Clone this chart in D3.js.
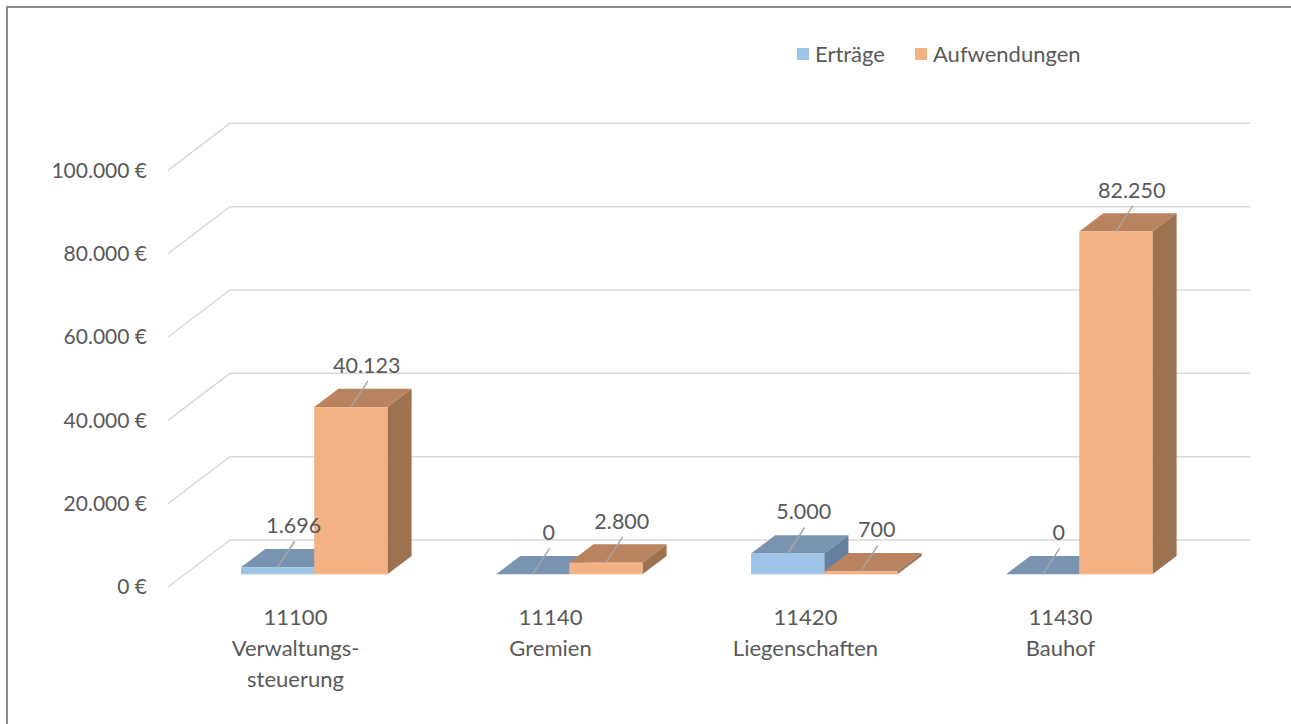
<!DOCTYPE html>
<html lang="de">
<head>
<meta charset="utf-8">
<title>Erträge und Aufwendungen</title>
<script src="https://cdn.jsdelivr.net/npm/d3@7"></script>
<style>
  body { margin: 0; background: #fff; }
  text { font-family: "Lato", "Open Sans", sans-serif; fill: #595959; }
</style>
</head>
<body>
<script>
// data
var categories = [["11100", "Verwaltungs-", "steuerung"], ["11140", "Gremien"], ["11420", "Liegenschaften"], ["11430", "Bauhof"]];
var seriesNames = ["Erträge", "Aufwendungen"];
var ertraege = [1696, 0, 5000, 0];
var aufwendungen = [40123, 2800, 700, 82250];
var yTicks = [0, 20000, 40000, 60000, 80000, 100000];

var W = 1291, H = 724;
var depthX = 62, depthY = -47;   // full depth of the floor
var z0 = 0.27, z1 = 0.66;        // bar front / back

var colors = [
  {front: "#9dc3e6", top: "#7894b1", side: "#64809e"},
  {front: "#f4b183", top: "#b98360", side: "#9c7251"}
];

var svg = d3.select("body").append("svg").attr("width", W).attr("height", H);

svg.append("rect").attr("x", 7).attr("y", 7).attr("width", W + 20).attr("height", H + 20)
  .attr("fill", "none").attr("stroke", "#8c8c8c").attr("stroke-width", 2);

var x = d3.scaleBand().domain(d3.range(categories.length)).range([170, 1190]);
var y = d3.scaleLinear().domain([0, 100000]).range([587, 170.3]);

function px(xx, z) { return xx + z * depthX; }
function py(yy, z) { return yy + z * depthY; }

var fmt = d3.formatLocale({decimal: ",", thousands: ".", grouping: [3], currency: ["", " €"]});
var num = fmt.format(",.0f");

// gridlines (left wall + back wall)
var grid = svg.append("g").attr("stroke", "#d9d9d9").attr("stroke-width", 1.5).attr("fill", "none");
yTicks.forEach(function(t) {
  grid.append("path").attr("d", d3.line()([
    [168, py(y(t), 0)], [168 + depthX, py(y(t), 1)], [1250, py(y(t), 1)]
  ]));
});

// y labels
svg.append("g").selectAll("text").data(yTicks).join("text")
  .attr("x", 147).attr("y", function(d) { return y(d); }).attr("dy", "0.35em")
  .attr("text-anchor", "end").attr("font-size", 21)
  .text(function(d) { return num(d) + " €"; });

// bars
var barW = x.bandwidth() * 0.287;
var bars = svg.append("g");
var labels = svg.append("g");
[ertraege, aufwendungen].forEach(function(values, s) {
  values.forEach(function(v, i) {
    var c = x(i) + x.bandwidth() / 2;
    var xl = s === 0 ? c - barW : c, xr = xl + barW;
    var yb = y(0), yt = y(v);
    var g = bars.append("g");
    // top
    g.append("path").attr("fill", colors[s].top).attr("d", d3.line()([
      [px(xl, z0), py(yt, z0)], [px(xr, z0), py(yt, z0)], [px(xr, z1), py(yt, z1)], [px(xl, z1), py(yt, z1)]
    ]) + "Z");
    // side
    g.append("path").attr("fill", colors[s].side).attr("d", d3.line()([
      [px(xr, z0), py(yt, z0)], [px(xr, z1), py(yt, z1)], [px(xr, z1), py(yb, z1)], [px(xr, z0), py(yb, z0)]
    ]) + "Z");
    // front
    if (v > 0) {
      g.append("rect").attr("fill", colors[s].front)
        .attr("x", px(xl, z0)).attr("y", py(yt, z0))
        .attr("width", barW).attr("height", yb - yt);
    }
    // data label with leader line
    var cx = px(xl + barW / 2, z0), cy = py(yt, z0);
    labels.append("line").attr("stroke", "#a6a6a6").attr("stroke-width", 1.5)
      .attr("x1", cx).attr("y1", cy).attr("x2", cx + 17).attr("y2", cy - 26);
    labels.append("text").attr("x", cx + 16).attr("y", cy - 34)
      .attr("text-anchor", "middle").attr("font-size", 21.5)
      .text(num(v));
  });
});

// category labels
svg.append("g").selectAll("text").data(categories).join("text")
  .attr("text-anchor", "middle").attr("font-size", 22)
  .attr("x", function(d, i) { return x(i) + x.bandwidth() / 2 - 2; })
  .attr("y", 625)
  .each(function(d) {
    var t = d3.select(this);
    d.forEach(function(line, k) {
      t.append("tspan").attr("x", t.attr("x")).attr("dy", k === 0 ? 0 : 31).text(line);
    });
  });

// legend
var legX = [797, 915];
var leg = svg.append("g");
seriesNames.forEach(function(n, s) {
  leg.append("rect").attr("x", legX[s]).attr("y", 48).attr("width", 12).attr("height", 12)
    .attr("fill", colors[s].front);
  leg.append("text").attr("x", legX[s] + 18).attr("y", 62).attr("font-size", 22).text(n);
});
</script>
</body>
</html>
